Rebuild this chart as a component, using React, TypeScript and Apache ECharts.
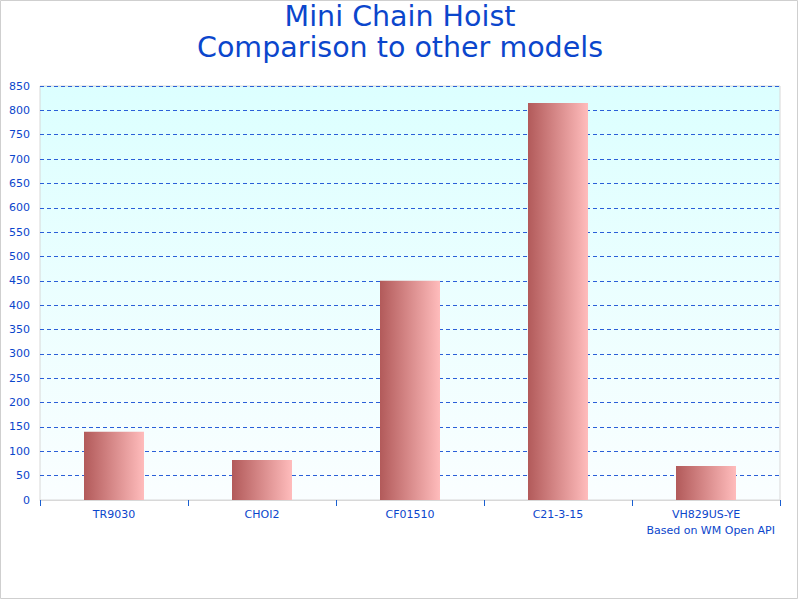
import React, { useEffect, useRef } from 'react';
import * as echarts from 'echarts';

const models = ['TR9030', 'CHOI2', 'CF01510', 'C21-3-15', 'VH829US-YE'];
const values = [140, 82, 450, 815, 70];

const titleLines = ['Mini Chain Hoist', 'Comparison to other models'];
const footnote = 'Based on WM Open API';

const blue = '#0b46cc';
const font = 'DejaVu Sans';

const App = () => {
  const chartRef = useRef(null);

  useEffect(() => {
    document.body.style.margin = '0';
    const myChart = echarts.init(chartRef.current, null, { renderer: 'svg' });

    const option = {
      animation: false,
      backgroundColor: '#ffffff',
      title: {
        text: titleLines.join('\n'),
        left: 'center',
        top: -4,
        textStyle: {
          color: blue,
          fontFamily: font,
          fontWeight: 'normal',
          fontSize: 28.5,
          lineHeight: 31
        }
      },
      grid: {
        left: 40,
        right: 20,
        top: 86,
        bottom: 100,
        show: true,
        borderColor: '#d8d8d8',
        borderWidth: 1,
        backgroundColor: new echarts.graphic.LinearGradient(0, 0, 0, 1, [
          { offset: 0, color: '#dcffff' },
          { offset: 1, color: '#fafeff' }
        ])
      },
      xAxis: {
        type: 'category',
        data: models,
        axisLine: { lineStyle: { color: '#d8d8d8' } },
        axisTick: { show: true, length: 6, lineStyle: { color: '#1a5fd0' } },
        axisLabel: { color: blue, fontFamily: font, fontSize: 11, margin: 9 },
        splitLine: { show: false }
      },
      yAxis: {
        type: 'value',
        min: 0,
        max: 850,
        interval: 50,
        axisLine: { show: false },
        axisTick: { show: false },
        axisLabel: { color: blue, fontFamily: font, fontSize: 11, margin: 10 },
        splitLine: {
          lineStyle: { color: '#2a5fd8', type: [4, 3], width: 1 }
        }
      },
      graphic: [
        {
          type: 'rect',
          shape: { x: 0.5, y: 0.5, width: 797, height: 598 },
          style: { fill: 'none', stroke: '#cfcfcf', lineWidth: 1 },
          silent: true
        },
        {
          type: 'text',
          right: 25,
          top: 525,
          style: {
            text: footnote,
            fill: blue,
            font: `11px "${font}"`
          }
        }
      ],
      series: [
        {
          type: 'bar',
          data: values,
          barWidth: 60,
          itemStyle: {
            color: new echarts.graphic.LinearGradient(0, 0, 1, 0, [
              { offset: 0, color: '#b25a5a' },
              { offset: 1, color: '#ffbcbc' }
            ])
          }
        }
      ]
    };

    myChart.setOption(option);

    return () => {
      myChart.dispose();
    };
  }, []);

  return <div ref={chartRef} style={{ width: '800px', height: '600px' }} />;
};

export default App;
